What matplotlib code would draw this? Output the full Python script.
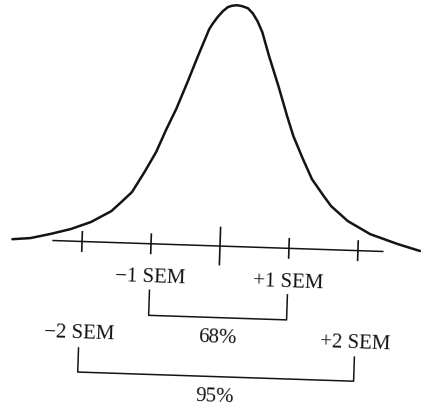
import matplotlib
matplotlib.use("Agg")
import matplotlib.pyplot as plt
from matplotlib.transforms import Affine2D

# curve traced in SEM units (x) and relative height (y, peak = 1)
curve_x = [-3.01, -2.75, -2.46, -2.17, -1.88, -1.59, -1.45, -1.30, -1.13, -0.97,
           -0.83, -0.70, -0.55, -0.41, -0.26, -0.217, -0.145, -0.072, 0.0, 0.058,
           0.13, 0.203, 0.29, 0.362, 0.435, 0.51, 0.62, 0.77, 0.91, 1.01,
           1.16, 1.30, 1.48, 1.59, 1.84, 2.17, 2.57, 2.90]
curve_y = [0.000, 0.007, 0.027, 0.050, 0.082, 0.130, 0.169, 0.212, 0.296, 0.381,
           0.479, 0.562, 0.675, 0.785, 0.898, 0.919, 0.949, 0.974, 0.992, 0.998,
           1.001, 0.998, 0.990, 0.970, 0.938, 0.893, 0.794, 0.671, 0.548, 0.466,
           0.372, 0.290, 0.221, 0.181, 0.121, 0.070, 0.033, 0.007]

axis_span = (-2.42, 2.36)
tick_sem = [-2, -1, 0, 1, 2]

label_sem = [-1, 1, -2, 2]
label_text = ["\u22121 SEM", "+1 SEM", "\u22122 SEM", "+2 SEM"]

bracket_ends = [(-1, 1), (-2, 2)]
bracket_pct = [68, 95]

ink = "#141414"
slant = -1.9  # the whole drawing sits slightly rotated

fig = plt.figure(figsize=(4.21, 4.10), dpi=100)
ax = fig.add_axes([0, 0, 1, 1])
ax.set_xlim(-3.188, 2.913)
ax.set_ylim(-0.676, 1.025)
ax.axis("off")

cx, cy = ax.transData.transform((0, 0))
tr = ax.transData + Affine2D().rotate_deg_around(cx, cy, slant)

ax.plot(curve_x, curve_y, color=ink, lw=1.8, solid_capstyle="round",
        solid_joinstyle="round", transform=tr)
ax.plot(axis_span, [0, 0], color=ink, lw=1.1, transform=tr)

for t in tick_sem:
    half = 0.077 if t == 0 else 0.040
    ax.plot([t, t], [-half, half], color=ink, lw=1.2, transform=tr)

font = dict(family="Liberation Serif", size=15, color=ink)
row_y = {1: -0.137, 2: -0.380}
for s, txt in zip(label_sem, label_text):
    ax.text(s, row_y[abs(s)], txt, ha="center", va="center",
            rotation=slant, rotation_mode="anchor", transform=tr, **font)

# brackets joining the +/- SEM labels, with coverage underneath
bracket_top = [-0.193, -0.442]
bracket_bot = [-0.297, -0.542]
pct_y = [-0.378, -0.622]
for (lo, hi), top, bot, p, py in zip(bracket_ends, bracket_top, bracket_bot, bracket_pct, pct_y):
    ax.plot([lo, lo, hi, hi], [top, bot, bot, top], color=ink, lw=1.1, transform=tr)
    ax.text((lo + hi) / 2, py, f"{p}%", ha="center", va="center",
            rotation=slant, rotation_mode="anchor", transform=tr, **font)

fig.savefig("out.png", dpi=100, facecolor="white")
